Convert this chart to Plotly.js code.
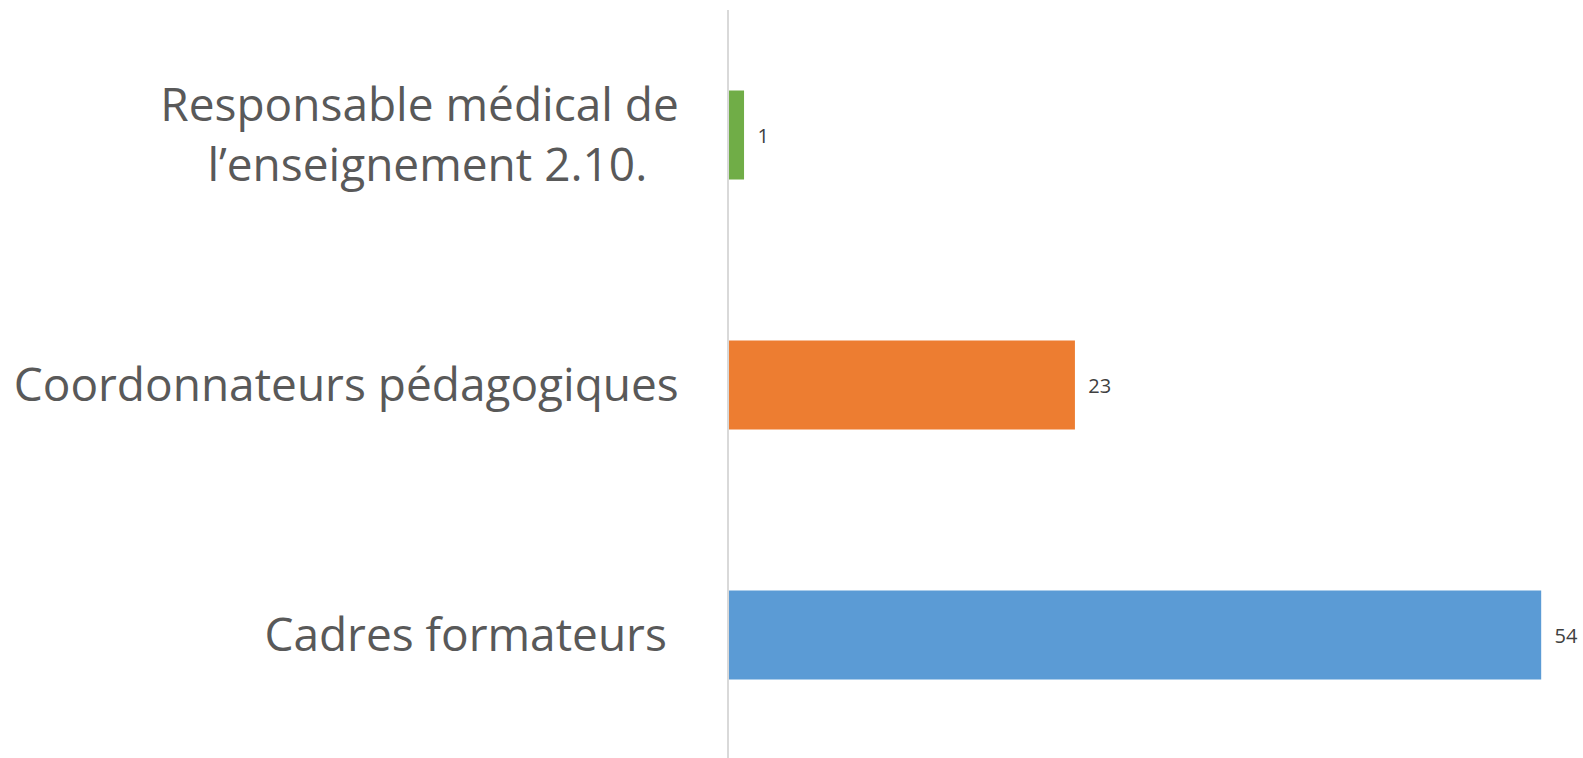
<!DOCTYPE html>
<html>
<head>
<meta charset="utf-8">
<script src="https://cdn.plot.ly/plotly-3.0.1.min.js"></script>
<style>html,body{margin:0;padding:0;background:#fff;}#chart{width:1583px;height:758px;}</style>
</head>
<body>
<div id="chart"></div>
<script>
// Data (bottom to top)
const categories = ["Cadres formateurs", "Coordonnateurs pédagogiques", "Responsable médical de l’enseignement 2.10."];
const values = [54, 23, 1];
const barColors = ["#5b9bd5", "#ed7d31", "#70ad47"];

// Display tick text (line breaks / padding for alignment)
const NB = "\u00a0";
const tickText = [
  "Cadres formateurs" + NB,
  "Coordonnateurs pédagogiques",
  "Responsable médical de<br>l’enseignement 2.10." + NB + NB + "\u2009"
];

const trace = {
  type: "bar",
  orientation: "h",
  y: categories,
  x: values,
  marker: { color: barColors },
  text: values.map(String),
  texttemplate: NB + NB + "%{x}",
  textposition: "outside",
  cliponaxis: false,
  textfont: { family: "Open Sans", size: 20, color: "#404040" },
  hoverinfo: "none"
};

const layout = {
  width: 1583,
  height: 758,
  margin: { l: 729, r: 0, t: 10, b: 0 },
  paper_bgcolor: "#ffffff",
  plot_bgcolor: "#ffffff",
  showlegend: false,
  bargap: 0.644,
  xaxis: {
    range: [0, 56.78],
    showgrid: false,
    zeroline: false,
    showline: false,
    showticklabels: false,
    ticks: ""
  },
  yaxis: {
    type: "category",
    categoryorder: "array",
    categoryarray: categories,
    tickvals: categories,
    ticktext: tickText,
    range: [-0.492, 2.5],
    showgrid: false,
    zeroline: false,
    showline: true,
    linecolor: "#d9d9d9",
    linewidth: 2,
    ticks: "",
    ticklabelstandoff: 39,
    tickfont: { family: "Open Sans", size: 46, color: "#595959" }
  }
};

Plotly.newPlot("chart", [trace], layout, { displayModeBar: false, staticPlot: true });
</script>
</body>
</html>
